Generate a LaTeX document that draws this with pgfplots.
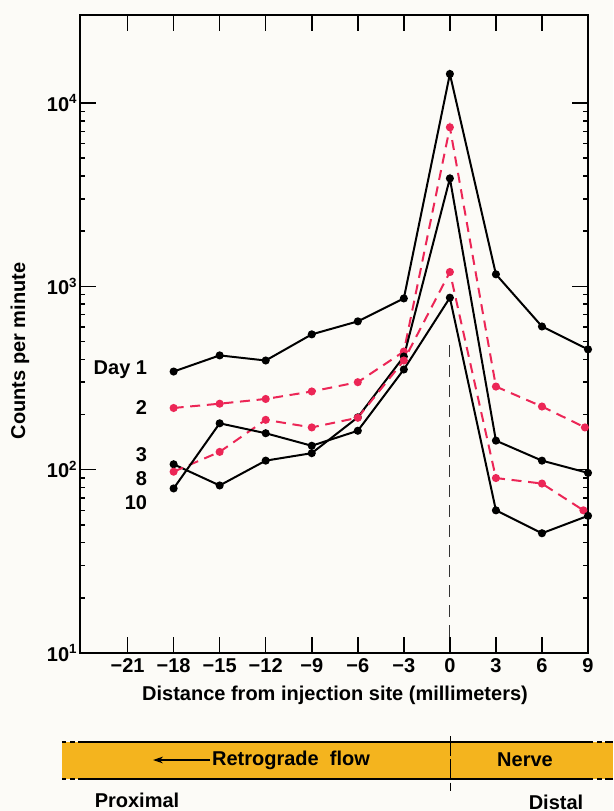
\documentclass[border=0pt]{standalone}
\usepackage{fontspec}
\setmainfont{Liberation Sans}
\usepackage{pgfplots}
\pgfplotsset{compat=1.18}
\usetikzlibrary{arrows.meta}
\definecolor{bg}{RGB}{252,251,247}
\definecolor{pinkred}{RGB}{236,38,86}
\definecolor{gold}{RGB}{244,180,30}

\begin{document}
\begin{tikzpicture}[font=\bfseries\fontsize{12}{14}\selectfont]
\fill[bg] (0,0) rectangle (367.8pt,486.6pt);
\begin{axis}[
  at={(48pt,94.8pt)},anchor=south west,
  scale only axis,width=304.8pt,height=382.8pt,
  ymode=log,xmin=-24.1,xmax=9,ymin=10,ymax=30200,
  axis line style={line width=0.9pt},
  xtick={-21,-18,...,9},
  xticklabels={−21,−18,−15,−12,−9,−6,−3,0,3,6,9},
  ytick={10,100,1000,10000},
  yticklabels={10\textsuperscript{1},10\textsuperscript{2},10\textsuperscript{3},10\textsuperscript{4}},
  xticklabel pos=lower,yticklabel pos=left,
  tick align=inside,major tick length=9.6pt,
  minor ytick={},
  tick style={draw=black,line width=0.9pt},
  tick label style={font=\bfseries\fontsize{12}{14}\selectfont},
  yticklabel style={xshift=2pt},
  clip=false]
  % Day 1
  \addplot[black,line width=1.2pt,mark=*,mark size=1.8pt] coordinates {
    (-18,343)(-15,420)(-12,394)(-9,547)(-6,644)(-3,859)
    (0,14400)(3,1163)(6,604)(9,453)};
  % Day 2
  \addplot[pinkred,line width=1.2pt,dash pattern=on 6pt off 4pt,mark=*,mark size=1.8pt,
    mark options={solid}] coordinates {
    (-18,217)(-15,229)(-12,243)(-9,267)(-6,300)(-3,441)
    (0,7370)(3,284)(6,221)(8.8,170)};
  % Day 3
  \addplot[black,line width=1.2pt,mark=*,mark size=1.8pt] coordinates {
    (-18,107)(-15,82)(-12,112)(-9,123)(-6,193)(-3,414)
    (0,3880)(3,144)(6,112)(9,96)};
  % Day 8
  \addplot[pinkred,line width=1.2pt,dash pattern=on 6pt off 4pt,mark=*,mark size=1.8pt,
    mark options={solid}] coordinates {
    (-18,97.5)(-15,125)(-12,187)(-9,170)(-6,192)(-3,394)
    (0,1197)(3,90)(6,84)(8.7,60)};
  % Day 10
  \addplot[black,line width=1.2pt,mark=*,mark size=1.8pt] coordinates {
    (-18,79)(-15,179)(-12,158)(-9,135)(-6,163)(-3,352)
    (0,867)(3,60)(6,45)(9,56)};
  \draw[black!80,line width=0.6pt,dash pattern=on 7pt off 5pt] (axis cs:0,476) -- (axis cs:0,10);
\end{axis}
\begin{scope}[x=0.6pt,y=-0.6pt,shift={(0pt,486.6pt)}]
% tick marks, inward on all four sides
\foreach \tx in {127.6,173.6,219.7,265.7,311.8,357.8,403.8,449.9,495.9,542.0}{
  \draw[black,line width=0.9pt] (\tx,653) -- (\tx,637);
  \draw[black,line width=0.9pt] (\tx,15) -- (\tx,31);
}
\foreach \ty in {469.7,286.4,103.1}{
  \draw[black,line width=0.9pt] (80,\ty) -- (96,\ty);
  \draw[black,line width=0.9pt] (588,\ty) -- (572,\ty);
}
% series labels
\node[anchor=east] at (153,370) {Day 1};
\node[anchor=east] at (153,408) {2};
\node[anchor=east] at (153,455) {3};
\node[anchor=east] at (153,479) {8};
\node[anchor=east] at (153,503) {10};
% axis titles
\node[rotate=90] at (20,351) {Counts per minute};
\node at (335,695) {Distance from injection site (millimeters)};
% nerve band
\fill[gold] (62,742) rectangle (613,779);
\foreach \yy in {742,779}{
  \draw[line width=0.8pt] (62,\yy) -- (66,\yy) (70,\yy) -- (75,\yy) (78,\yy) -- (593,\yy)
    (597,\yy) -- (602,\yy) (605,\yy) -- (613,\yy);
}
\draw[line width=0.6pt,dash pattern=on 12pt off 2pt] (450,736) -- (450,791);
\draw[-{Stealth[length=6pt,width=4pt]},line width=0.9pt] (210,760) -- (153,760);
\node at (291,760) {Retrograde\ \ flow};
\node at (525,760) {Nerve};
\node at (137,800) {Proximal};
\node at (556,802) {Distal};
\end{scope}
\pgfresetboundingbox
\useasboundingbox (0,0) rectangle (367.8pt,486.6pt);
\end{tikzpicture}
\end{document}
